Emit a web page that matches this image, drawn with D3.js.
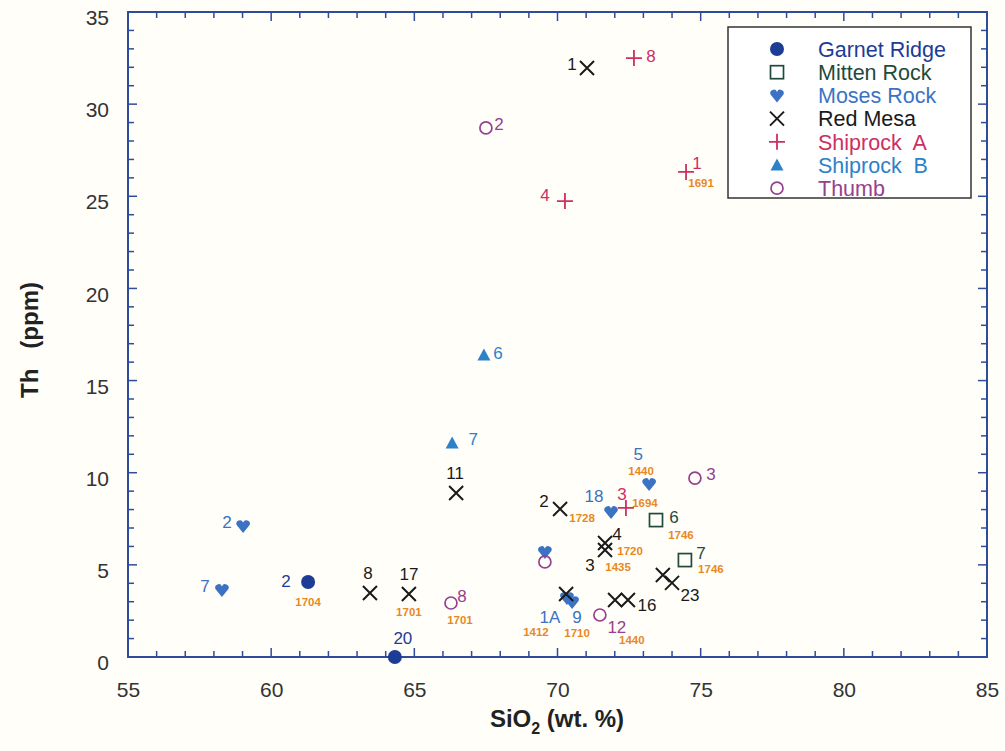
<!DOCTYPE html>
<html><head><meta charset="utf-8">
<script src="https://cdn.jsdelivr.net/npm/d3@7"></script>
<style>
html,body{margin:0;padding:0;background:#fffef9;}
text{font-family:"Liberation Sans",Arial,Helvetica,sans-serif;}
</style></head>
<body><svg id="c" width="1005" height="751"></svg>
<script>
// ---------------- DATA ----------------
const seriesNames = ["Garnet Ridge","Mitten Rock","Moses Rock","Red Mesa","Shiprock  A","Shiprock  B","Thumb"];
const xTicks = [55,60,65,70,75,80,85];
const yTicks = [0,5,10,15,20,25,30,35];

// Garnet Ridge
const garnetSiO2 = [61.29, 64.32];
const garnetTh   = [4.07, 0.00];
const garnetIds  = ["2","20"];
const garnetAges = ["1704",""];
// Mitten Rock
const mittenSiO2 = [73.44, 74.45];
const mittenTh   = [7.43, 5.26];
const mittenIds  = ["6","7"];
const mittenAges = ["1746","1746"];
// Moses Rock
const mosesSiO2 = [59.02, 58.28, 73.20, 71.87, 69.56, 70.33, 70.51];
const mosesTh   = [7.11, 3.64, 9.39, 7.87, 5.70, 3.20, 2.98];
const mosesIds  = ["2","7","5","18","","1A","9"];
const mosesAges = ["","","1440","","","1412","1710"];
// Red Mesa
const redSiO2 = [71.03, 66.46, 63.45, 64.81, 70.09, 71.66, 71.66, 70.30, 72.01, 72.46, 73.68, 74.00];
const redTh   = [31.96, 8.90, 3.47, 3.42, 8.03, 6.19, 5.81, 3.42, 3.09, 3.09, 4.45, 4.02];
const redIds  = ["1","11","8","17","2","4","3","","","16","","23"];
const redAges = ["","","","1701","1728","1720","1435","","","","",""];
// Shiprock A
const shipASiO2 = [72.67, 74.49, 70.26, 72.39];
const shipATh   = [32.50, 26.32, 24.74, 8.09];
const shipAIds  = ["8","1","4","3"];
const shipAAges = ["","1691","","1694"];
// Shiprock B
const shipBSiO2 = [67.43, 66.32];
const shipBTh   = [16.39, 11.61];
const shipBIds  = ["6","7"];
const shipBAges = ["",""];
// Thumb
const thumbSiO2 = [67.50, 74.80, 66.28, 69.56, 71.48];
const thumbTh   = [28.71, 9.71, 2.93, 5.16, 2.28];
const thumbIds  = ["2","3","8","","12"];
const thumbAges = ["","","1701","","1440"];

// ---------------- LAYOUT (label offsets in px: idDx, idDy, ageDx, ageDy) ----------------
const garnetLab = [[-22,-1,0,20],[8,-19,0,0]];
const mittenLab = [[18,-3,25,15],[16,-7,26,9]];
const mosesLab  = [[-16,-4,0,0],[-17,-4,0,0],[-11,-30,-8,-13],[-17,-16,0,0],[0,0,0,0],[-17,19,-31,34],[5,15,5,31]];
const redLab    = [[-15,-4,0,0],[-1,-20,0,0],[-2,-20,0,0],[0,-20,0,18],[-16,-8,22,9],[12,-9,25,8],[-15,15,13,17],[0,0,0,0],[0,0,0,0],[19,5,0,0],[0,0,0,0],[18,12,0,0]];
const shipALab  = [[17,-2,0,0],[11,-9,15,11],[-20,-6,0,0],[-4,-14,19,-5]];
const shipBLab  = [[14,-2,0,0],[21,-4,0,0]];
const thumbLab  = [[13,-4,0,0],[16,-4,0,0],[11,-7,9,17],[0,0,0,0],[17,12,32,25]];

const colors = {
  axis:"#2f4b9c", garnet:"#1d3c96", mitten:"#1f4a3c", moses:"#3b72c4",
  red:"#1a1a1a", shipA:"#cc2f63", shipB:"#2c82c9", thumb:"#96408f", age:"#e8891f"
};

const series = [
  {name:seriesNames[0], key:"garnet", sym:"dot",    xs:garnetSiO2, ys:garnetTh, ids:garnetIds, ages:garnetAges, lab:garnetLab},
  {name:seriesNames[1], key:"mitten", sym:"square", xs:mittenSiO2, ys:mittenTh, ids:mittenIds, ages:mittenAges, lab:mittenLab},
  {name:seriesNames[2], key:"moses",  sym:"heart",  xs:mosesSiO2,  ys:mosesTh,  ids:mosesIds,  ages:mosesAges,  lab:mosesLab},
  {name:seriesNames[3], key:"red",    sym:"cross",  xs:redSiO2,    ys:redTh,    ids:redIds,    ages:redAges,    lab:redLab},
  {name:seriesNames[4], key:"shipA",  sym:"plus",   xs:shipASiO2,  ys:shipATh,  ids:shipAIds,  ages:shipAAges,  lab:shipALab},
  {name:seriesNames[5], key:"shipB",  sym:"tri",    xs:shipBSiO2,  ys:shipBTh,  ids:shipBIds,  ages:shipBAges,  lab:shipBLab},
  {name:seriesNames[6], key:"thumb",  sym:"circle", xs:thumbSiO2,  ys:thumbTh,  ids:thumbIds,  ages:thumbAges,  lab:thumbLab}
];

// ---------------- DRAW ----------------
const svg = d3.select("#c");
const L=128, R=987, T=12, B=657;
const x = d3.scaleLinear().domain([55,85]).range([L,R]);
const y = d3.scaleLinear().domain([0,35]).range([B,T]);

const minorX = d3.range(55,86,1), minorY = d3.range(0,36,1);
const tickLen = v => (v%5===0 ? 9 : 6);

const axG = svg.append("g");
axG.append("rect").attr("x",L).attr("y",T).attr("width",R-L).attr("height",B-T)
  .attr("fill","none").attr("stroke",colors.axis).attr("stroke-width",2);
minorX.forEach(v=>{
  axG.append("line").attr("x1",x(v)).attr("x2",x(v)).attr("y1",B).attr("y2",B-tickLen(v)).attr("stroke",colors.axis).attr("stroke-width",1.5);
  axG.append("line").attr("x1",x(v)).attr("x2",x(v)).attr("y1",T).attr("y2",T+tickLen(v)).attr("stroke",colors.axis).attr("stroke-width",1.5);
});
minorY.forEach(v=>{
  axG.append("line").attr("y1",y(v)).attr("y2",y(v)).attr("x1",L).attr("x2",L+tickLen(v)).attr("stroke",colors.axis).attr("stroke-width",1.5);
  axG.append("line").attr("y1",y(v)).attr("y2",y(v)).attr("x1",R).attr("x2",R-tickLen(v)).attr("stroke",colors.axis).attr("stroke-width",1.5);
});
const xAxis = d3.axisBottom(x).tickValues(xTicks).tickSize(0).tickPadding(25);
const gx = svg.append("g").attr("transform",`translate(0,${B})`).call(xAxis);
gx.select(".domain").remove();
gx.selectAll("text").attr("font-size",21).attr("fill","#333").attr("font-family","Liberation Sans, Arial, sans-serif");
const yAxis = d3.axisLeft(y).tickValues(yTicks).tickSize(0).tickPadding(19);
const gy = svg.append("g").attr("transform",`translate(${L},0)`).call(yAxis);
gy.select(".domain").remove();
gy.selectAll("text").attr("font-size",21).attr("fill","#333").attr("dy","0.6em").attr("font-family","Liberation Sans, Arial, sans-serif");

// axis titles
svg.append("text").attr("transform","translate(38,340) rotate(-90)").attr("text-anchor","middle")
  .attr("font-size",24).attr("font-weight","bold").attr("fill","#222").style("white-space","pre").text("Th   (ppm)");
const xt = svg.append("text").attr("x",557).attr("y",727).attr("text-anchor","middle")
  .attr("font-size",24).attr("font-weight","bold").attr("fill","#222");
xt.append("tspan").text("SiO");
xt.append("tspan").attr("font-size",16).attr("dy",7).text("2");
xt.append("tspan").attr("dy",-7).text(" (wt. %)");

function drawSym(g, sym, c){
  switch(sym){
    case "dot": g.append("circle").attr("r",7).attr("fill",c); break;
    case "circle": g.append("circle").attr("r",6).attr("fill","none").attr("stroke",c).attr("stroke-width",1.7); break;
    case "square": g.append("rect").attr("x",-6.5).attr("y",-6.5).attr("width",13).attr("height",13).attr("fill","none").attr("stroke",c).attr("stroke-width",1.7); break;
    case "cross": g.append("path").attr("d","M-7,-7L7,7M-7,7L7,-7").attr("stroke",c).attr("stroke-width",2).attr("fill","none"); break;
    case "plus": g.append("path").attr("d","M-8,0L8,0M0,-8L0,8").attr("stroke",c).attr("stroke-width",1.8).attr("fill","none"); break;
    case "tri": g.append("path").attr("d","M0,-6.5L6.5,5.5L-6.5,5.5Z").attr("fill",c); break;
    case "heart": g.append("path").attr("d","M0,7L-6.5,-1A3.4,3.4 0 0 1 0,-3.5A3.4,3.4 0 0 1 6.5,-1Z").attr("fill",c); break;
  }
}

const ptG = svg.append("g");
series.forEach(s=>{
  const c = colors[s.key];
  s.xs.forEach((xv,i)=>{
    const px=x(xv), py=y(s.ys[i]);
    const g = ptG.append("g").attr("transform",`translate(${px},${py})`);
    drawSym(g, s.sym, c);
    const lb = s.lab[i];
    if(s.ids[i]) ptG.append("text").attr("x",px+lb[0]).attr("y",py+lb[1]).attr("dy","0.35em")
        .attr("text-anchor","middle").attr("font-size",17).attr("fill",c).text(s.ids[i]);
    if(s.ages[i]) ptG.append("text").attr("x",px+lb[2]).attr("y",py+lb[3]).attr("dy","0.35em")
        .attr("text-anchor","middle").attr("font-size",11.5).attr("font-weight","bold").attr("fill",colors.age).text(s.ages[i]);
  });
});

// legend
const lg = svg.append("g");
lg.append("rect").attr("x",728).attr("y",27).attr("width",243).attr("height",171)
  .attr("fill","#fff").attr("stroke","#333").attr("stroke-width",1.5);
series.forEach((s,i)=>{
  const cy = 49 + i*23.2;
  const g = lg.append("g").attr("transform",`translate(777,${cy})`);
  drawSym(g, s.sym, colors[s.key]);
  lg.append("text").attr("x",818).attr("y",cy).attr("dy","0.36em").attr("font-size",21.5)
    .attr("fill", s.key==="red" ? "#1a1a1a" : colors[s.key]).style("white-space","pre").text(s.name);
});
</script></body></html>
